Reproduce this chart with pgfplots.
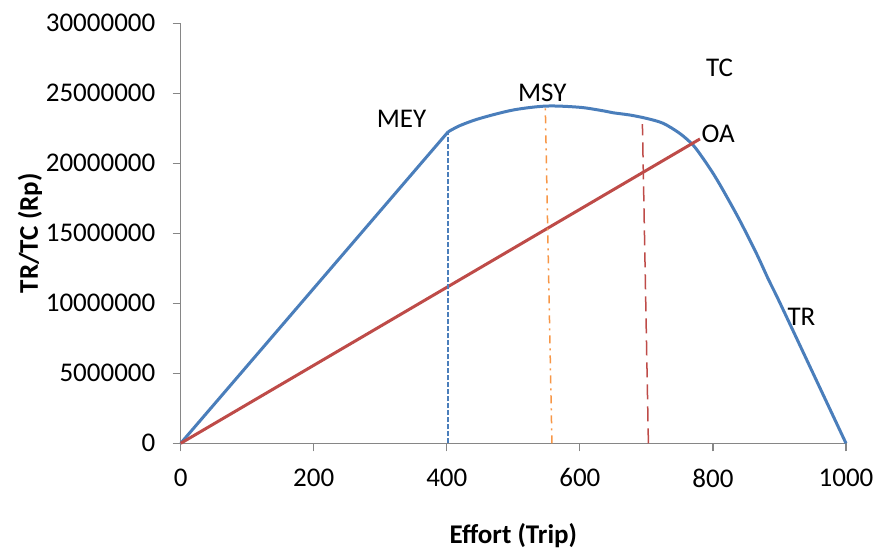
\documentclass[border=0pt]{standalone}
\usepackage{fontspec}
\setmainfont{Carlito}
\usepackage{pgfplots}
\pgfplotsset{compat=1.18}
\definecolor{trblue}{HTML}{4A7EBB}
\definecolor{oared}{HTML}{BE4B48}
\definecolor{msyor}{HTML}{F79646}
\definecolor{axgray}{HTML}{868686}
\begin{document}
\fontsize{13.5pt}{16pt}\selectfont
\begin{tikzpicture}
\path[use as bounding box] (-90.35pt,-52.35pt) rectangle (347.15pt,221.65pt);
\begin{axis}[
  at={(0,0)}, anchor=south west,
  scale only axis, width=332.65pt, height=210pt,
  xmin=0, xmax=1000, ymin=0, ymax=30000000,
  axis x line*=bottom, axis y line*=left,
  axis line style={axgray, line width=0.6pt},
  xtick={0,200,...,1000},
  ytick={0,5000000,10000000,15000000,20000000,25000000,30000000},
  scaled y ticks=false,
  xticklabel={\pgfmathprintnumber[fixed,precision=0,1000 sep={}]{\tick}},
  yticklabel={\pgfmathprintnumber[fixed,precision=0,1000 sep={}]{\tick}},
  /pgf/number format/assume math mode=true,
  tick style={axgray, line width=0.6pt},
  tick align=outside, major tick length=4pt,
  ticklabel style={font=\fontsize{13.5pt}{16pt}\selectfont},
  yticklabel style={xshift=-4pt},
  xticklabel style={yshift=-4pt},
  xlabel={Effort (Trip)}, ylabel={TR/TC (Rp)},
  xlabel style={font=\fontsize{13.5pt}{16pt}\selectfont\bfseries, at={(axis description cs:0.5,-0.219)}, anchor=center},
  ylabel style={font=\fontsize{13.5pt}{16pt}\selectfont\bfseries, at={(axis description cs:-0.2265,0.5)}, anchor=center, rotate=0},
  clip=false,
]
% TR curve: straight rise, then smooth
\addplot[trblue, line width=1.5pt, line join=round] coordinates {(0,0) (402,22250000)};
\addplot[trblue, line width=1.5pt, line join=round, smooth, tension=0.5] coordinates {
 (402,22250000) (420,22700000) (450,23210000) (500,23810000) (550,24090000)
 (600,24000000) (635,23750000) (650,23610000) (675,23450000) (700,23210000)
 (725,22860000) (750,22140000) (770,21310000) (785,20360000) (800,19300000)
 (815,18100000) (840,15950000) (866,13500000) (883,11750000)
 (900,10100000) (951,4950000) (1000,0)
};
% OA / TC line
\addplot[oared, line width=1.5pt] coordinates {(0,0) (780.5,21740000)};
% MEY
\addplot[trblue, line width=0.75pt, dash pattern=on 2.5pt off 1pt] coordinates {(402,0) (402,22250000)};
% MSY
\addplot[msyor, line width=0.75pt, dash pattern=on 4pt off 2.5pt on 1pt off 2.5pt] coordinates {(558,0) (548,24090000)};
% OA vertical
\addplot[oared, line width=0.75pt, dash pattern=on 7.5pt off 3.5pt] coordinates {(703,0) (694,22800000)};
\node at (axis cs:332,23200000) {MEY};
\node at (axis cs:543.5,25000000) {MSY};
\node at (axis cs:810,26800000) {TC};
\node at (axis cs:808,22100000) {OA};
\node at (axis cs:933,9040000) {TR};
\end{axis}
\end{tikzpicture}
\end{document}
